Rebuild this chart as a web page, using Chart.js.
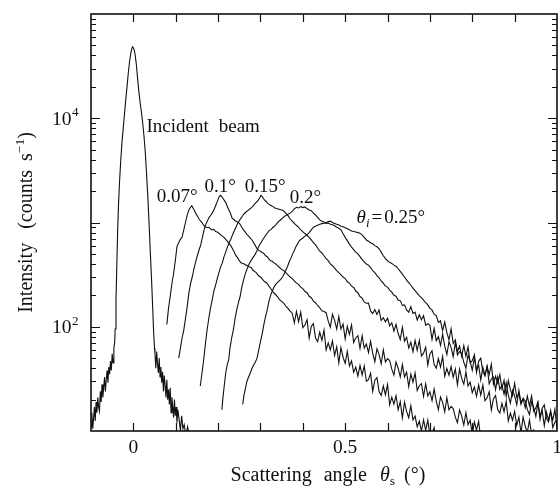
<!DOCTYPE html>
<html><head><meta charset="utf-8">
<script src="https://cdn.jsdelivr.net/npm/chart.js@4.4.0/dist/chart.umd.min.js"></script>
<style>html,body{margin:0;padding:0;background:#fff;}#wrap{width:560px;height:488px;}</style>
</head><body><div id="wrap"><canvas id="c" width="560" height="488"></canvas></div>
<script>
// ---- data: [scattering angle (deg), intensity (counts/s)] ----
const incidentBeam = [[-0.100,11],[-0.098,15],[-0.096,10.5],[-0.094,13],[-0.092,17],[-0.090,12.5],[-0.088,19],[-0.086,15],[-0.084,21],[-0.082,17],[-0.080,15.5],[-0.078,24],[-0.076,19],[-0.074,28],[-0.072,21],[-0.070,26],[-0.068,33],[-0.066,24],[-0.064,31],[-0.062,38],[-0.060,29],[-0.058,41],[-0.056,35],[-0.054,47],[-0.052,38],[-0.050,55],[-0.048,45],[-0.046,62],[-0.044,72],[-0.043,95],[-0.041,180],[-0.039,400],[-0.037,850],[-0.035,1500],[-0.033,2300],[-0.030,3800],[-0.027,5800],[-0.024,7900],[-0.021,11000],[-0.018,15000],[-0.015,20000],[-0.012,27000],[-0.009,35000],[-0.006,42000],[-0.004,46000],[-0.002,48500],[0.000,47500],[0.002,45000],[0.004,41000],[0.007,33000],[0.010,24000],[0.013,18000],[0.016,14000],[0.019,11500],[0.022,9000],[0.025,6800],[0.028,4800],[0.031,3000],[0.034,1800],[0.037,1000],[0.040,520],[0.043,280],[0.046,140],[0.048,85],[0.050,62],[0.051,55],[0.053,40],[0.055,58],[0.057,44],[0.059,36],[0.061,50],[0.063,33],[0.065,41],[0.067,29],[0.069,37],[0.071,24],[0.073,34],[0.075,27],[0.077,21],[0.079,31],[0.081,20],[0.083,25],[0.085,18],[0.087,26],[0.089,15],[0.091,21],[0.093,17],[0.095,13.5],[0.097,20],[0.099,14],[0.101,17],[0.103,12],[0.105,16],[0.108,13],[0.111,10],[0.114,14],[0.117,10.5],[0.120,11.5],[0.124,9],[0.128,11],[0.132,9]];

const theta007 = [[0.079,105],[0.083,150],[0.087,195],[0.091,260],[0.095,324],[0.099,430],[0.103,590],[0.107,640],[0.111,690],[0.115,724],[0.119,850],[0.123,1000],[0.127,1175],[0.131,1320],[0.135,1400],[0.138,1450],[0.141,1380],[0.144,1300],[0.147,1230],[0.150,1175],[0.154,1100],[0.158,1040],[0.162,1000],[0.166,940],[0.170,910],[0.174,890],[0.178,900],[0.182,870],[0.186,850],[0.190,860],[0.194,820],[0.198,810],[0.202,790],[0.206,760],[0.210,740],[0.214,720],[0.218,690],[0.222,660],[0.226,630],[0.230,600],[0.234,560],[0.238,520],[0.242,480],[0.246,460],[0.250,430],[0.254,410],[0.258,405],[0.262,400],[0.266,390],[0.270,385],[0.274,375],[0.278,370],[0.282,350],[0.286,340],[0.290,330],[0.295,310],[0.300,300],[0.305,285],[0.310,270],[0.315,263],[0.320,245],[0.325,230],[0.330,215],[0.335,205],[0.340,195],[0.345,182],[0.350,175],[0.355,168],[0.360,158],[0.365,150],[0.370,141],[0.375,135],[0.380,109],[0.385,140],[0.390,112],[0.395,138],[0.400,98],[0.405,104],[0.410,117],[0.415,78],[0.420,101],[0.425,107],[0.430,78],[0.435,72],[0.440,89],[0.445,74],[0.450,93],[0.455,60],[0.460,70],[0.465,60],[0.470,73],[0.475,53],[0.480,64],[0.485,45],[0.490,63],[0.495,51],[0.500,44.5],[0.505,58],[0.510,42],[0.515,47],[0.520,36.5],[0.525,41],[0.530,33.6],[0.535,42.5],[0.540,34.4],[0.545,42],[0.550,30],[0.555,31],[0.560,35.7],[0.565,24],[0.570,30.7],[0.575,32.5],[0.580,23.9],[0.585,21.9],[0.590,27],[0.595,22.3],[0.600,27.9],[0.605,17.8],[0.610,21.1],[0.615,18.1],[0.620,21.8],[0.625,16],[0.630,19.1],[0.635,13.4],[0.640,18.9],[0.645,15.4],[0.650,13.4],[0.655,17.5],[0.660,12.8],[0.665,13.9],[0.670,11],[0.675,12.4],[0.680,10],[0.685,12.8],[0.690,10.2],[0.695,12.7],[0.700,9],[0.705,9.5],[0.710,10.8],[0.715,7.2],[0.720,9.2]];

const theta010 = [[0.107,50],[0.111,62],[0.115,78],[0.119,93],[0.123,120],[0.127,155],[0.131,210],[0.135,260],[0.139,300],[0.143,360],[0.147,420],[0.151,480],[0.155,545],[0.159,610],[0.163,720],[0.167,850],[0.171,960],[0.175,1040],[0.179,1120],[0.183,1180],[0.187,1250],[0.191,1350],[0.195,1480],[0.199,1620],[0.203,1780],[0.206,1820],[0.209,1760],[0.212,1700],[0.215,1620],[0.218,1560],[0.221,1450],[0.224,1360],[0.227,1280],[0.230,1200],[0.233,1100],[0.236,1080],[0.240,1040],[0.244,1020],[0.248,1000],[0.252,960],[0.256,900],[0.260,850],[0.264,810],[0.268,770],[0.272,740],[0.276,710],[0.280,680],[0.284,640],[0.288,600],[0.292,560],[0.296,540],[0.300,530],[0.304,515],[0.308,505],[0.312,480],[0.316,470],[0.320,445],[0.324,430],[0.328,425],[0.332,410],[0.336,400],[0.340,385],[0.345,370],[0.350,355],[0.355,345],[0.360,330],[0.365,315],[0.370,300],[0.375,290],[0.380,275],[0.385,262],[0.390,255],[0.395,240],[0.400,232],[0.405,218],[0.410,212],[0.415,196],[0.420,190],[0.425,176],[0.430,170],[0.435,160],[0.440,152],[0.445,142],[0.450,140],[0.455,136.5],[0.460,113],[0.465,99],[0.470,132],[0.475,115],[0.480,95],[0.485,125],[0.490,95],[0.495,106],[0.500,76.5],[0.505,101],[0.510,84.5],[0.515,104],[0.520,70.5],[0.525,78],[0.530,82],[0.535,62],[0.540,82],[0.545,62.6],[0.550,68.4],[0.555,56.4],[0.560,72.4],[0.565,55.6],[0.570,46.2],[0.575,61.3],[0.580,54.3],[0.585,44.1],[0.590,60.1],[0.595,46],[0.600,49.5],[0.605,47.4],[0.610,39.2],[0.615,34.4],[0.620,45.9],[0.625,40],[0.630,32.9],[0.635,43.4],[0.640,33.1],[0.645,36.7],[0.650,26.6],[0.655,35.2],[0.660,29.4],[0.665,36],[0.670,24.5],[0.675,27.2],[0.680,28.5],[0.685,21.5],[0.690,28.4],[0.695,21.7],[0.700,23.8],[0.705,19.6],[0.710,25.2],[0.715,19.3],[0.720,16],[0.725,21.2],[0.730,18.8],[0.735,15.3],[0.740,20.9],[0.745,16],[0.750,17.2],[0.755,16.4],[0.760,13.6],[0.765,12],[0.770,15.9],[0.775,13.9],[0.780,11.4],[0.785,15],[0.790,11.5],[0.795,12.7],[0.800,9.2],[0.805,12.2],[0.810,10.2],[0.815,12.4],[0.820,8.5],[0.825,9.4],[0.830,9.8]];

const theta015 = [[0.158,27],[0.162,36],[0.166,48],[0.170,68],[0.174,93],[0.178,120],[0.182,150],[0.186,180],[0.190,220],[0.194,250],[0.198,290],[0.202,330],[0.206,375],[0.210,410],[0.214,470],[0.218,520],[0.222,580],[0.226,640],[0.230,690],[0.234,760],[0.238,830],[0.242,900],[0.246,980],[0.250,1040],[0.254,1100],[0.258,1160],[0.262,1220],[0.266,1260],[0.270,1300],[0.274,1340],[0.278,1380],[0.282,1430],[0.286,1500],[0.290,1560],[0.294,1620],[0.298,1720],[0.301,1820],[0.304,1780],[0.307,1700],[0.310,1640],[0.313,1600],[0.316,1540],[0.319,1510],[0.322,1480],[0.326,1450],[0.330,1420],[0.334,1380],[0.338,1360],[0.342,1350],[0.346,1330],[0.350,1320],[0.354,1300],[0.358,1250],[0.362,1200],[0.366,1150],[0.370,1080],[0.374,1040],[0.378,1000],[0.382,960],[0.386,930],[0.390,900],[0.394,860],[0.398,830],[0.402,800],[0.406,780],[0.410,750],[0.415,720],[0.420,680],[0.425,640],[0.430,610],[0.435,570],[0.440,530],[0.445,510],[0.450,480],[0.455,450],[0.460,430],[0.465,400],[0.470,385],[0.475,365],[0.480,345],[0.485,330],[0.490,315],[0.495,300],[0.500,290],[0.505,270],[0.510,262],[0.515,245],[0.520,238],[0.525,220],[0.530,212],[0.535,195],[0.540,188],[0.545,172],[0.550,168],[0.555,169],[0.560,142],[0.565,134],[0.570,146],[0.575,131],[0.580,145],[0.585,115],[0.590,122],[0.595,111.5],[0.600,120.7],[0.605,101.8],[0.610,109.3],[0.615,90.8],[0.620,105.6],[0.625,86.1],[0.630,75.5],[0.635,99],[0.640,72.7],[0.645,79.3],[0.650,62.6],[0.655,71.1],[0.660,57.6],[0.665,74.1],[0.670,59.4],[0.675,74],[0.680,52.4],[0.685,55.8],[0.690,63.8],[0.695,42.9],[0.700,54.8],[0.705,58.9],[0.710,43.4],[0.715,40],[0.720,49.4],[0.725,41.1],[0.730,52],[0.735,33.5],[0.740,39.8],[0.745,34.3],[0.750,41.5],[0.755,32.8],[0.760,39.3],[0.765,27.7],[0.770,39.3],[0.775,32],[0.780,28.1],[0.785,36.9],[0.790,27],[0.795,29.5],[0.800,23.3],[0.805,26.5],[0.810,21.5],[0.815,27.7],[0.820,22.1],[0.825,27.6],[0.830,19.5],[0.835,20.8],[0.840,23.8],[0.845,15.9],[0.850,20.4],[0.855,21.9],[0.860,16.1],[0.865,14.9],[0.870,18.4],[0.875,15.3],[0.880,19.3],[0.885,12.5],[0.890,14.8],[0.895,12.7],[0.900,15.4],[0.905,11.3],[0.910,13.6],[0.915,9.6],[0.920,13.6],[0.925,11.1],[0.930,9.7],[0.935,12.7],[0.940,9.4],[0.945,10.2],[0.950,8.1],[0.955,9.1],[0.960,7.4]];

const theta020 = [[0.209,16],[0.211,20],[0.214,26],[0.218,36],[0.222,44],[0.225,48],[0.228,62],[0.232,78],[0.236,93],[0.240,120],[0.244,145],[0.248,170],[0.252,195],[0.256,240],[0.260,280],[0.264,320],[0.268,355],[0.272,390],[0.276,420],[0.280,445],[0.284,470],[0.288,500],[0.292,540],[0.296,590],[0.300,630],[0.305,680],[0.310,730],[0.315,780],[0.320,830],[0.325,860],[0.330,900],[0.335,940],[0.340,990],[0.345,1040],[0.350,1080],[0.355,1130],[0.360,1170],[0.365,1200],[0.370,1230],[0.375,1280],[0.380,1350],[0.385,1400],[0.390,1380],[0.395,1420],[0.400,1390],[0.405,1410],[0.410,1360],[0.415,1320],[0.420,1300],[0.425,1230],[0.430,1180],[0.435,1120],[0.440,1060],[0.445,1030],[0.450,1010],[0.455,980],[0.460,990],[0.465,960],[0.470,950],[0.475,930],[0.480,900],[0.485,880],[0.490,850],[0.495,780],[0.500,720],[0.505,670],[0.510,620],[0.515,580],[0.520,550],[0.525,520],[0.530,500],[0.535,470],[0.540,440],[0.545,420],[0.550,400],[0.555,390],[0.560,370],[0.565,345],[0.570,330],[0.575,310],[0.580,295],[0.585,275],[0.590,262],[0.595,245],[0.600,240],[0.605,225],[0.610,215],[0.615,200],[0.620,196],[0.625,180],[0.630,178],[0.635,160],[0.640,162],[0.645,145],[0.650,138],[0.655,156],[0.660,134],[0.665,138],[0.670,116],[0.675,130.5],[0.680,117],[0.685,128],[0.690,103],[0.695,106.7],[0.700,103],[0.705,75.5],[0.710,96.4],[0.715,73.5],[0.720,80.4],[0.725,66.2],[0.730,85],[0.735,65.1],[0.740,54.1],[0.745,71.8],[0.750,63.5],[0.755,51.6],[0.760,70.3],[0.765,53.7],[0.770,57.8],[0.775,55.3],[0.780,45.6],[0.785,40.2],[0.790,53.4],[0.795,46.5],[0.800,38.2],[0.805,50.5],[0.810,38.5],[0.815,42.7],[0.820,30.9],[0.825,40.8],[0.830,34.1],[0.835,41.7],[0.840,28.4],[0.845,31.5],[0.850,32.9],[0.855,24.9],[0.860,32.9],[0.865,25.1],[0.870,27.4],[0.875,22.6],[0.880,29],[0.885,22.2],[0.890,18.5],[0.895,24.5],[0.900,21.7],[0.905,17.8],[0.910,24.6],[0.915,18.8],[0.920,20.4],[0.925,19.5],[0.930,16.1],[0.935,14.3],[0.940,19],[0.945,16.8],[0.950,13.8],[0.955,18.3],[0.960,14],[0.965,15.7],[0.970,11.3],[0.975,15.2],[0.980,12.7],[0.985,15.7],[0.990,10.8],[0.995,12.1],[1.000,12.8]];

const theta025 = [[0.258,18],[0.261,22],[0.264,25],[0.268,30],[0.272,33],[0.276,36],[0.280,40],[0.284,43],[0.288,46],[0.292,50],[0.296,60],[0.300,72],[0.304,85],[0.308,105],[0.312,125],[0.316,145],[0.320,175],[0.324,200],[0.328,220],[0.332,240],[0.336,255],[0.340,265],[0.344,275],[0.348,285],[0.352,300],[0.356,320],[0.360,350],[0.364,380],[0.368,420],[0.372,455],[0.376,500],[0.380,540],[0.384,590],[0.388,630],[0.392,670],[0.396,690],[0.400,710],[0.405,740],[0.410,760],[0.415,800],[0.420,850],[0.425,900],[0.430,920],[0.435,940],[0.440,960],[0.445,975],[0.450,985],[0.455,995],[0.460,1020],[0.465,1030],[0.470,1000],[0.475,980],[0.480,960],[0.485,945],[0.490,920],[0.495,910],[0.500,890],[0.505,870],[0.510,850],[0.515,830],[0.520,820],[0.525,810],[0.530,800],[0.535,790],[0.540,760],[0.545,720],[0.550,680],[0.555,660],[0.560,640],[0.565,625],[0.570,600],[0.575,585],[0.580,560],[0.585,520],[0.590,480],[0.595,450],[0.600,430],[0.605,415],[0.610,405],[0.615,390],[0.620,380],[0.625,360],[0.630,340],[0.635,320],[0.640,300],[0.645,280],[0.650,265],[0.655,250],[0.660,235],[0.665,222],[0.670,210],[0.675,198],[0.680,190],[0.685,180],[0.690,170],[0.695,162],[0.700,150],[0.705,145],[0.710,132],[0.715,128],[0.720,110],[0.725,114],[0.730,92],[0.735,111],[0.740,88],[0.745,75],[0.750,95.6],[0.755,69],[0.760,75],[0.765,57.8],[0.770,65],[0.775,52],[0.780,66],[0.785,52],[0.790,64],[0.795,45],[0.800,47.2],[0.805,54],[0.810,36.4],[0.815,46.6],[0.820,50],[0.825,36.9],[0.830,34],[0.835,41.8],[0.840,34.8],[0.845,43.8],[0.850,28.2],[0.855,33.5],[0.860,28.8],[0.865,34.8],[0.870,25.6],[0.875,30.6],[0.880,21.5],[0.885,30.5],[0.890,24.9],[0.895,21.8],[0.900,28.6],[0.905,21],[0.910,22.9],[0.915,18],[0.920,20.5],[0.925,16.7],[0.930,21.6],[0.935,17.4],[0.940,21.7],[0.945,15.5],[0.950,16.6],[0.955,19.1],[0.960,12.9],[0.965,16.5],[0.970,17.8],[0.975,13.2],[0.980,12.2],[0.985,15.2],[0.990,12.7],[0.995,16.1],[1.000,10.5]];

const seriesList = [incidentBeam, theta007, theta010, theta015, theta020, theta025];
const seriesNames = ['Incident beam', '0.07°', '0.1°', '0.15°', '0.2°', 'θi = 0.25°'];

// axis ticks
const xTickValues = [-0.1, 0, 0.1, 0.2, 0.3, 0.4, 0.5, 0.6, 0.7, 0.8, 0.9, 1.0];
const xTickLabels = [[0, '0'], [0.5, '0.5'], [1, '1']];
const yDecades = [10, 100, 1000, 10000];
const yMantissas = [1, 2, 3, 4, 5, 6, 7, 8, 9];
const yTickLabels = [[100, '2'], [10000, '4']];

// curve annotations: [text, x (deg), y (counts)] anchor = left/baseline
const annotations = [
  ['Incident beam', 0.031, 7400],
  ['0.07°', 0.055, 1570],
  ['0.1°', 0.168, 1980],
  ['0.15°', 0.263, 1980],
  ['0.2°', 0.369, 1530],
  ['θi=0.25°', 0.527, 980]
];

const FONT = '"Liberation Serif", "Times New Roman", serif';
const yTicksAll = [];
yDecades.forEach(d => yMantissas.forEach(m => yTicksAll.push(d * m)));
yTicksAll.push(100000);

function pieces(ctx, list, x, y) {
  let cx = x;
  list.forEach(p => {
    if (p.gap) { cx += p.gap; return; }
    ctx.font = p.f;
    ctx.fillText(p.t, cx, y + (p.dy || 0));
    cx += ctx.measureText(p.t).width;
  });
  return cx;
}
function piecesWidth(ctx, list) {
  let w = 0;
  list.forEach(p => { if (p.gap) { w += p.gap; return; } ctx.font = p.f; w += ctx.measureText(p.t).width; });
  return w;
}

const decor = {
  id: 'decor',
  afterDatasetsDraw(chart) {
    const ctx = chart.ctx, ca = chart.chartArea, xs = chart.scales.x, ys = chart.scales.y;
    ctx.save();
    ctx.strokeStyle = '#111';
    ctx.fillStyle = '#111';
    ctx.lineWidth = 1.2;
    ctx.beginPath();
    xTickValues.forEach(v => {
      const px = Math.round(xs.getPixelForValue(v)) + 0.5;
      if (px < ca.left + 2 || px > ca.right - 2) return;
      ctx.moveTo(px, ca.bottom); ctx.lineTo(px, ca.bottom - 8);
      ctx.moveTo(px, ca.top); ctx.lineTo(px, ca.top + 8);
    });
    yTicksAll.forEach(v => {
      const py = Math.round(ys.getPixelForValue(v)) + 0.5;
      if (py < ca.top + 2 || py > ca.bottom - 2) return;
      const major = yDecades.includes(v);
      const L = major ? 9 : 5;
      ctx.moveTo(ca.left, py); ctx.lineTo(ca.left + L, py);
      ctx.moveTo(ca.right, py); ctx.lineTo(ca.right - L, py);
    });
    ctx.stroke();
    ctx.lineWidth = 1.6;
    ctx.strokeRect(ca.left, ca.top, ca.right - ca.left, ca.bottom - ca.top);

    ctx.textBaseline = 'alphabetic';
    ctx.textAlign = 'center';
    ctx.font = '19.5px ' + FONT;
    xTickLabels.forEach(([v, t]) => ctx.fillText(t, xs.getPixelForValue(v), 453));
    yTickLabels.forEach(([v, e]) => {
      const py = ys.getPixelForValue(v);
      ctx.textAlign = 'right';
      ctx.font = '19.5px ' + FONT;
      ctx.fillText('10', 71.5, py + 6.5);
      ctx.textAlign = 'left';
      ctx.font = '13px ' + FONT;
      ctx.fillText(e, 72, py - 2);
    });

    ctx.textAlign = 'left';
    const F = '20px ' + FONT, FI = 'italic 20px ' + FONT, FS = '13.5px ' + FONT;
    const xt = [{t:'Scattering', f:F}, {gap:12}, {t:'angle', f:F}, {gap:13}, {t:'θ', f:FI}, {t:'s', f:FS, dy:4}, {gap:9}, {t:'(°)', f:F}];
    const xw = piecesWidth(ctx, xt);
    pieces(ctx, xt, (ca.left + ca.right) / 2 + 4 - xw / 2, 481);

    const yt = [{t:'Intensity', f:F}, {gap:14}, {t:'(counts', f:F}, {gap:9}, {t:'s', f:F}, {t:'−1', f:FS, dy:-8}, {t:')', f:F}];
    const yw = piecesWidth(ctx, yt);
    ctx.save();
    ctx.translate(32, (ca.top + ca.bottom) / 2);
    ctx.rotate(-Math.PI / 2);
    pieces(ctx, yt, -yw / 2, 0);
    ctx.restore();

    const FA = '19px ' + FONT, FAI = 'italic 19px ' + FONT, FAS = 'italic 13px ' + FONT;
    annotations.forEach(([t, x, y]) => {
      const px = xs.getPixelForValue(x), py = ys.getPixelForValue(y);
      let list;
      if (t === 'Incident beam') list = [{t:'Incident', f:FA}, {gap:10}, {t:'beam', f:FA}];
      else if (t.startsWith('θ')) list = [{t:'θ', f:FAI}, {t:'i', f:FAS, dy:4}, {gap:2}, {t:'=', f:FA}, {gap:2}, {t:'0.25°', f:FA}];
      else list = [{t:t, f:FA}];
      pieces(ctx, list, px, py);
    });
    ctx.restore();
  }
};

const datasets = seriesList.map((s, i) => ({
  label: seriesNames[i],
  data: s.map(([x, y]) => ({x, y})),
  borderColor: '#111',
  borderWidth: 1.1,
  pointRadius: 0,
  fill: false,
  tension: 0
}));

new Chart(document.getElementById('c'), {
  type: 'line',
  data: { datasets },
  options: {
    responsive: false,
    animation: false,
    devicePixelRatio: 1,
    layout: { padding: { top: 14, right: 3, left: 0, bottom: 0 } },
    plugins: { legend: { display: false }, tooltip: { enabled: false } },
    scales: {
      x: {
        type: 'linear', min: -0.1, max: 1.0,
        grid: { display: false }, border: { display: false },
        ticks: { display: false },
        afterBuildTicks: s => { s.ticks = xTickValues.map(v => ({ value: v })); },
        afterFit: s => { s.height = 57; }
      },
      y: {
        type: 'logarithmic', min: 10, max: 100000,
        grid: { display: false }, border: { display: false },
        ticks: { display: false },
        afterBuildTicks: s => { s.ticks = yTicksAll.map(v => ({ value: v })); },
        afterFit: s => { s.width = 91; }
      }
    }
  },
  plugins: [decor]
});
</script>
</body></html>
